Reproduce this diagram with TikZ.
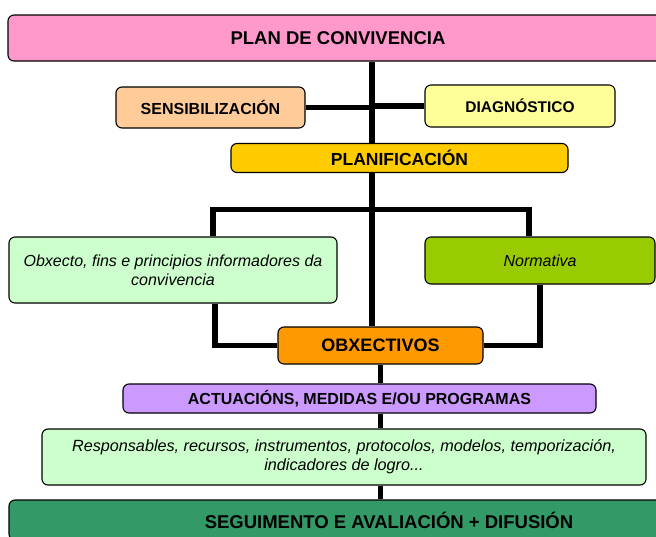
\documentclass[tikz,border=0pt]{standalone}
\usepackage{fontspec}
\setmainfont{Liberation Sans}
\usetikzlibrary{backgrounds}

\definecolor{planpink}{HTML}{FF99CC}
\definecolor{sensorange}{HTML}{FFCC99}
\definecolor{diagyellow}{HTML}{FFFF99}
\definecolor{planifgold}{HTML}{FFCC00}
\definecolor{palegreen}{HTML}{CCFFCC}
\definecolor{normgreen}{HTML}{99CC00}
\definecolor{obxorange}{HTML}{FF9900}
\definecolor{actlilac}{HTML}{CC99FF}
\definecolor{segugreen}{HTML}{339966}

\tikzset{
  boxnode/.style={draw, line width=1.1pt, rounded corners=6pt, inner sep=2pt, align=center},
  titlebox/.style={boxnode, font=\bfseries\fontsize{#1}{#1}\selectfont},
  notebox/.style={boxnode, font=\itshape\fontsize{#1}{19}\selectfont},
  link/.style={line width=5.5pt},
}

\begin{document}
\begin{tikzpicture}[x=1pt, y=-1pt]

\useasboundingbox (0,0) rectangle (656,536);
\clip (0,0) rectangle (656,536);

% Boxes
\node[titlebox=18.5, fill=planpink, minimum width=660, minimum height=46] (plan) at (338,38) {PLAN DE CONVIVENCIA};
\node[titlebox=16, fill=sensorange, minimum width=189, minimum height=41] (sens) at (210.5,107.5) {SENSIBILIZACIÓN};
\node[titlebox=15.5, fill=diagyellow, minimum width=190, minimum height=42] (diag) at (520,106) {DIAGNÓSTICO};
\node[titlebox=17.5, fill=planifgold, minimum width=337, minimum height=29] (planif) at (399.5,158) {PLANIFICACIÓN};
\node[notebox=16, fill=palegreen, minimum width=328, minimum height=66] (obxecto) at (173,270) {Obxecto, fins e principios informadores da\\convivencia};
\node[notebox=16, fill=normgreen, minimum width=230, minimum height=47] (normativa) at (540,260.5) {Normativa};
\node[titlebox=18, fill=obxorange, minimum width=205, minimum height=37] (obx) at (380.5,345.5) {OBXECTIVOS};
\node[titlebox=16, fill=actlilac, minimum width=473, minimum height=29] (actuac) at (359.5,398.5) {ACTUACIÓNS, MEDIDAS E/OU PROGRAMAS};
\node[notebox=16.2, fill=palegreen, minimum width=604, minimum height=56] (resp) at (344,457) {Responsables, recursos, instrumentos, protocolos, modelos, temporización,\\indicadores de logro...};
\node[titlebox=18.5, fill=segugreen, minimum width=760, minimum height=40] (segu) at (389,520) {SEGUIMENTO E AVALIACIÓN + DIFUSIÓN};

\coordinate (trunk) at (372,0);

% Connectors
\begin{scope}[on background layer]
\draw[link] (plan.south -| trunk) -- (obx.north -| trunk);
\draw[link] (sens.east) -- (sens.east -| trunk);
\draw[link] (diag.west) -- (diag.west -| trunk);
\draw[link] ([xshift=40]obxecto.north) -- ++(0,-27) -| ([xshift=-11]normativa.north);
\draw[link] ([xshift=42]obxecto.south) |- (obx.west);
\draw[link] (normativa.south) |- (obx.east);
\draw[link] (obx.south) -- (obx.south |- actuac.north);
\draw[link] (obx.south |- actuac.south) -- (obx.south |- resp.north);
\draw[link] (obx.south |- resp.south) -- (obx.south |- segu.north);
\end{scope}

\end{tikzpicture}
\end{document}
